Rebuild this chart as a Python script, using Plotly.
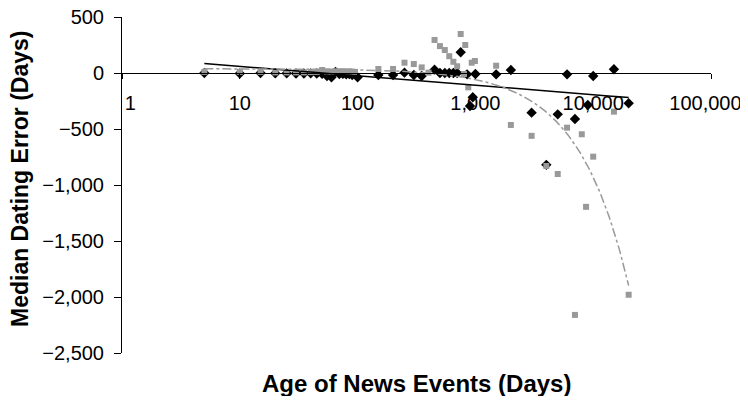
import numpy as np
import plotly.graph_objects as go

# Black diamonds series
black_x = [5, 10, 15, 20, 25, 30, 35, 40, 45, 50,
           55, 60, 65, 70, 75, 80, 85, 90, 100,
           150, 200, 250, 300, 350,
           450, 500, 550, 600, 650, 700, 750,
           850, 900, 950, 1000,
           1500, 2000, 3000, 4000, 5000, 6000, 7000, 9000, 10000, 15000, 20000]
black_y = [0, -5, 0, -3, -3, -5, -5, -3, -5, -8,
           -27, -38, 10, -10, -8, -12, -10, -18, -38,
           -18, -18, 3, -18, -27,
           30, 0, 0, 0, 0, 0, 185,
           -12, -295, -217, -9,
           -12, 27, -354, -820, -369, -12, -411, -286, -27, 33, -270]

# Gray squares series
gray_x = [5, 10, 15, 20, 25, 30, 35, 40, 45,
          50, 55, 60, 65, 70, 75, 80, 85, 90, 95,
          150, 200, 250, 300, 350, 400,
          450, 500, 550, 600, 650, 700, 750,
          800, 820, 870, 930, 990,
          1500, 2000, 3000, 4000, 5000, 6000, 7000, 8000, 8700, 10000, 15000, 20000]
gray_y = [10, 10, 10, 5, 5, 5, 5, 8, 10,
          27, 15, 12, 15, 15, 15, 12, 15, 12, 10,
          36, 36, 92, 80, 50, 3,
          295, 240, 205, 150, 100, 60, 348,
          -9, 250, -128, 92, 107,
          65, -464, -561, -830, -902, -488, -2160, -547, -1195, -747, -345, -1980]

x_tickvals = [1, 10, 100, 1000, 10000, 100000]
x_ticktext = ["\u00a0\u00a0\u00a01", "10", "100", "1,000", "10,000", "100,000\u00a0\u00a0"]
y_tickvals = [500, 0, -500, -1000, -1500, -2000, -2500]
y_ticktext = ["500", "0", "\u2212500", "\u22121,000", "\u22121,500", "\u22122,000", "\u22122,500"]

# Trend lines fitted from the data (log trend for black, linear trend for gray)
bx = np.array(black_x, float); by = np.array(black_y, float)
gx = np.array(gray_x, float); gy = np.array(gray_y, float)
b_slope, b_int = np.polyfit(np.log(bx), by, 1)
g_slope, g_int = np.polyfit(gx, gy, 1)
bt_x = np.logspace(np.log10(bx.min()), np.log10(bx.max()), 100)
bt_y = b_slope * np.log(bt_x) + b_int
gt_x = np.logspace(np.log10(gx.min()), np.log10(gx.max()), 300)
gt_y = g_slope * gt_x + g_int

FONT = "Liberation Sans, Arial, Helvetica, sans-serif"
GRAY = "#999999"

fig = go.Figure()
fig.add_trace(go.Scatter(x=black_x, y=black_y, mode="markers",
                         marker=dict(symbol="diamond", size=8, color="black"),
                         showlegend=False, cliponaxis=False))
fig.add_trace(go.Scatter(x=gray_x, y=gray_y, mode="markers",
                         marker=dict(symbol="square", size=6, color=GRAY),
                         showlegend=False, cliponaxis=False))
fig.add_trace(go.Scatter(x=bt_x, y=bt_y, mode="lines",
                         line=dict(color="black", width=1.5),
                         showlegend=False, hoverinfo="skip"))
fig.add_trace(go.Scatter(x=gt_x, y=gt_y, mode="lines",
                         line=dict(color=GRAY, width=1.5, dash="dashdot"),
                         showlegend=False, hoverinfo="skip"))

# page body has an 8px default margin, so the figure is sized/offset to compensate
fig.update_layout(
    width=740, height=388,
    margin=dict(l=114, r=37, t=9, b=43),
    paper_bgcolor="white", plot_bgcolor="white",
    font=dict(family=FONT, size=20, color="black"),
    xaxis=dict(type="log", range=[0, 5], tickvals=x_tickvals, ticktext=x_ticktext,
               anchor="free", position=2500 / 3000, automargin=False,
               showline=True, linecolor="black", linewidth=1,
               ticks="outside", ticklen=5, tickcolor="black",
               ticklabelstandoff=7, ticklabeloverflow="allow",
               showgrid=False, zeroline=False,
               tickfont=dict(family=FONT, size=20, color="black")),
    yaxis=dict(range=[-2500, 500], tickvals=y_tickvals, ticktext=y_ticktext,
               automargin=False,
               showline=True, linecolor="black", linewidth=1,
               ticks="outside", ticklen=7, tickcolor="black",
               ticklabelstandoff=6, ticklabeloverflow="allow",
               showgrid=False, zeroline=False,
               tickfont=dict(family=FONT, size=20, color="black")),
    annotations=[
        dict(text="<b>Age of News Events (Days)</b>", xref="paper", yref="paper",
             x=0.5, y=0, yshift=-30, xanchor="center", yanchor="middle",
             showarrow=False, font=dict(family=FONT, size=24, color="black")),
        dict(text="<b>Median Dating Error (Days)</b>", xref="paper", yref="paper",
             x=0, y=0.5, xshift=-102, yshift=6, xanchor="center", yanchor="middle",
             textangle=-90, showarrow=False,
             font=dict(family=FONT, size=23, color="black")),
    ],
)

fig.write_html("out.html")
